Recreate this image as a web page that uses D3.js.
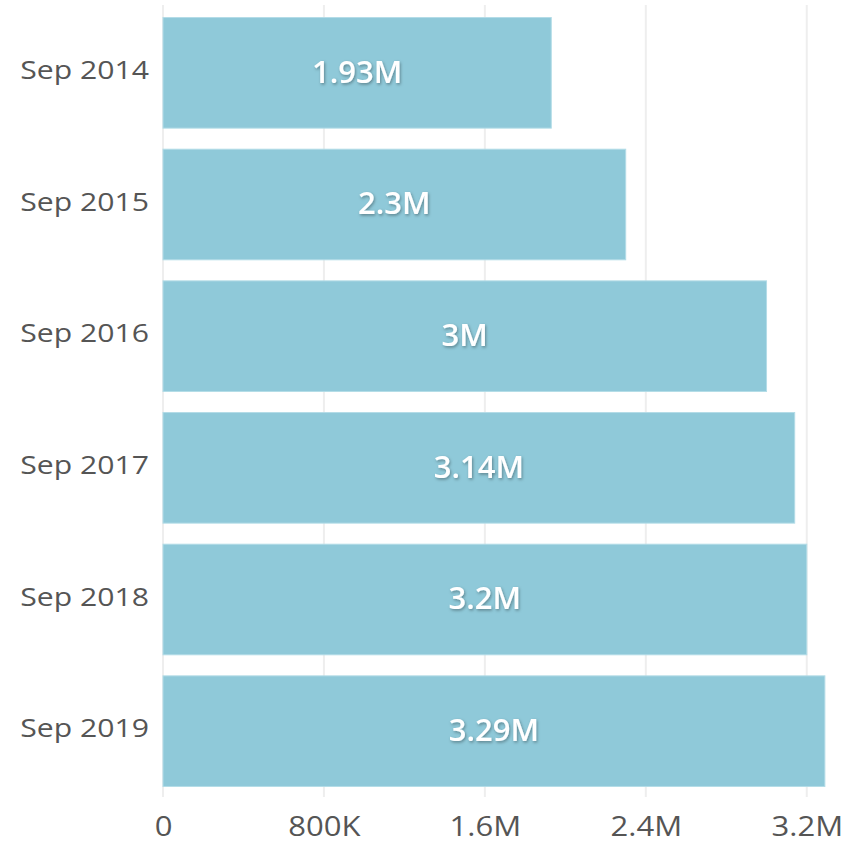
<!DOCTYPE html>
<html>
<head>
<meta charset="utf-8">
<script src="https://cdn.jsdelivr.net/npm/d3@7"></script>
<style>
  body { margin: 0; background: #fff; }
  text { font-family: "Open Sans", sans-serif; }
</style>
</head>
<body>
<div id="chart-area"></div>
<script>
var categories = ["Sep 2014", "Sep 2015", "Sep 2016", "Sep 2017", "Sep 2018", "Sep 2019"];
var values = [1930000, 2300000, 3000000, 3140000, 3200000, 3290000];
var valueLabels = ["1.93M", "2.3M", "3M", "3.14M", "3.2M", "3.29M"];
var tickValues = [0, 800000, 1600000, 2400000, 3200000];
var tickLabels = ["0", "800K", "1.6M", "2.4M", "3.2M"];

var width = 858, height = 846;

var svg = d3.select("#chart-area")
    .append("svg")
    .attr("width", width)
    .attr("height", height);

var x = d3.scaleLinear()
    .domain([0, 3400000])
    .range([163, 847]);

var y = d3.scaleBand()
    .domain(categories)
    .range([7, 797])
    .paddingInner(0.16)
    .paddingOuter(0.08);

var defs = svg.append("defs");
var shadow = defs.append("filter")
    .attr("id", "shadow")
    .attr("x", "-20%").attr("y", "-40%")
    .attr("width", "140%").attr("height", "180%");
shadow.append("feDropShadow")
    .attr("dx", 1).attr("dy", 1.5)
    .attr("stdDeviation", 1.8)
    .attr("flood-color", "#000")
    .attr("flood-opacity", 0.35);

// gridlines
svg.append("g")
    .selectAll("line")
    .data(tickValues)
    .enter()
    .append("line")
    .attr("x1", d => x(d))
    .attr("x2", d => x(d))
    .attr("y1", 5)
    .attr("y2", 797)
    .attr("stroke", "#eeeeee")
    .attr("stroke-width", 2);

// bars
svg.append("g")
    .selectAll("rect")
    .data(values)
    .enter()
    .append("rect")
    .attr("x", x(0))
    .attr("y", (d, i) => y(categories[i]))
    .attr("width", d => x(d) - x(0))
    .attr("height", y.bandwidth())
    .attr("fill", "#8fc9d9")
    .attr("stroke", "#b3dce7")
    .attr("stroke-width", 1);

// value labels
svg.append("g")
    .selectAll("text")
    .data(values)
    .enter()
    .append("text")
    .attr("x", d => (x(0) + x(d)) / 2)
    .attr("y", (d, i) => y(categories[i]) + y.bandwidth() / 2 - 1)
    .attr("dy", "0.35em")
    .attr("text-anchor", "middle")
    .attr("fill", "#ffffff")
    .attr("font-size", 31)
    .attr("font-weight", 600)
    .attr("filter", "url(#shadow)")
    .text((d, i) => valueLabels[i]);

// y axis
var yAxis = svg.append("g")
    .attr("transform", "translate(149,-2)")
    .call(d3.axisLeft(y).tickSize(0).tickPadding(0));
yAxis.select(".domain").remove();
yAxis.selectAll("text")
    .attr("font-size", 26)
    .attr("fill", "#555555")
    .attr("font-family", "Open Sans, sans-serif")
    .attr("transform", "scale(1.16,1)");

// x axis
var xAxis = svg.append("g")
    .attr("transform", "translate(0,817)")
    .call(d3.axisBottom(x).tickValues(tickValues).tickFormat((d, i) => tickLabels[i]).tickSize(0).tickPadding(0));
xAxis.select(".domain").remove();
xAxis.selectAll("text")
    .attr("font-size", 27)
    .attr("fill", "#555555")
    .attr("font-family", "Open Sans, sans-serif")
    .attr("transform", "scale(1.15,1)");
</script>
</body>
</html>
